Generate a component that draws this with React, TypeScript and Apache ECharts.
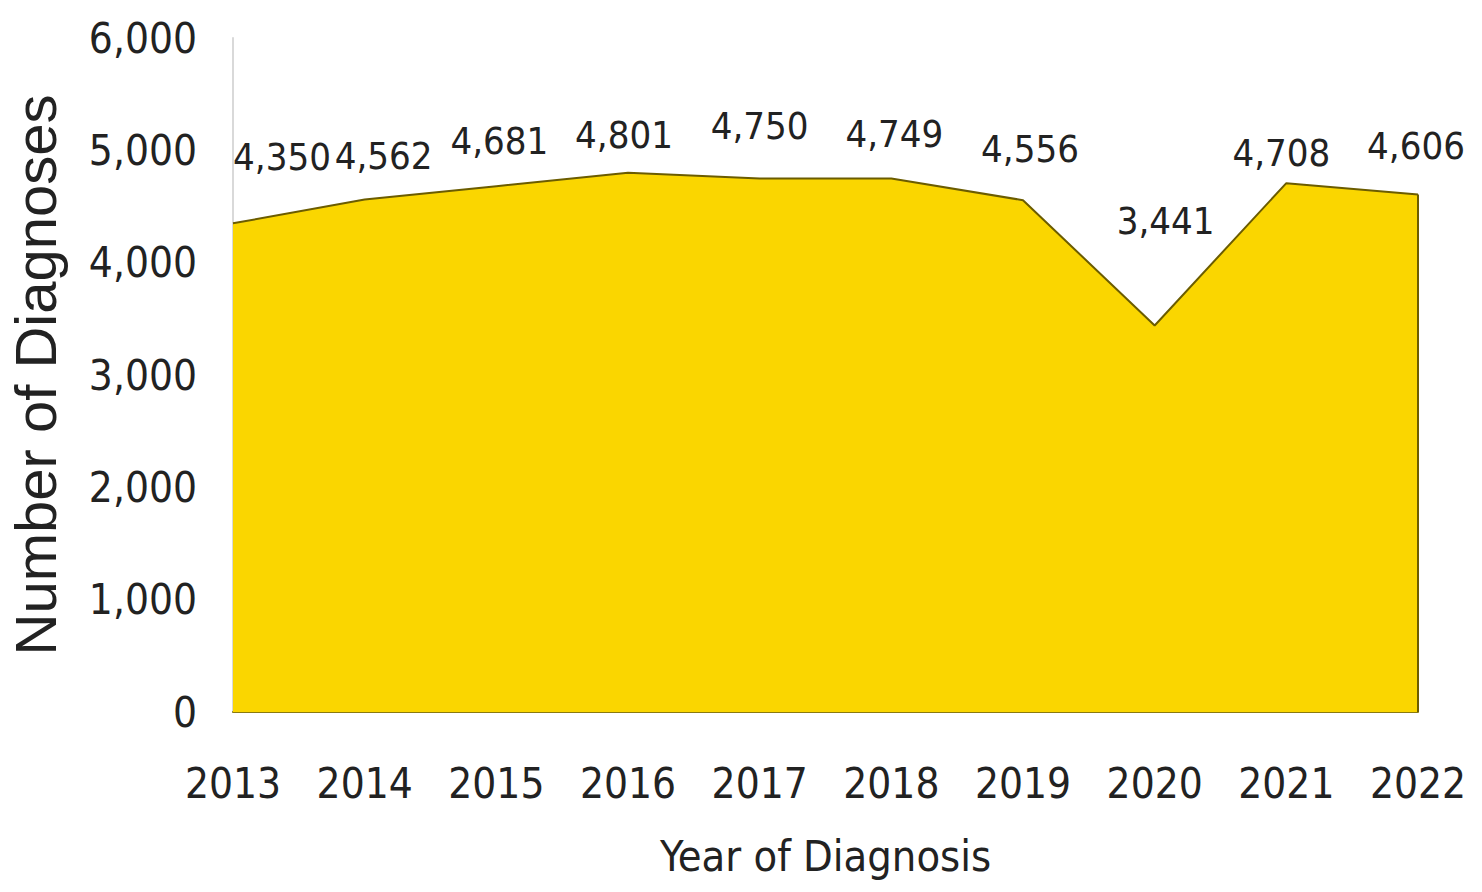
import React, { useEffect, useRef } from "react";
import * as echarts from "echarts";

const years = ["2013", "2014", "2015", "2016", "2017", "2018", "2019", "2020", "2021", "2022"];
const diagnoses = [4350, 4562, 4681, 4801, 4750, 4749, 4556, 3441, 4708, 4606];
const yTicks = { min: 0, max: 6000, interval: 1000 };

const NARROW = '"Liberation Sans Narrow", "Arial Narrow", "DejaVu Sans Condensed", sans-serif';
const SANS = '"Liberation Sans", Arial, sans-serif';

// label nudges (presentation only), keyed by category index
const labelNudge: Array<[number, number]> = [
  [49, -26],
  [19, -4],
  [3, -5],
  [-4, 2],
  [0, -12],
  [3, -5],
  [7, -11],
  [11, -64],
  [-5, 10],
  [-2, -9],
];

export default function App() {
  const ref = useRef<HTMLDivElement>(null);
  useEffect(() => {
    if (!ref.current) return;
    const chart = echarts.init(ref.current, undefined, { renderer: "svg" });
    const fmt = (v: number) => v.toLocaleString("en-US");
    chart.setOption({
      animation: false,
      backgroundColor: "#ffffff",
      grid: { left: 233, right: 64, top: 38, bottom: 180, outerBoundsMode: "none", containLabel: false },
      xAxis: {
        type: "category",
        data: years,
        boundaryGap: false,
        name: "Year of Diagnosis",
        nameLocation: "middle",
        nameGap: 122,
        nameTextStyle: { fontFamily: NARROW, fontSize: 43, color: "#222" },
        axisLine: { show: true, lineStyle: { color: "#8a7a10", width: 2 } },
        axisTick: { show: false },
        axisLabel: { fontFamily: NARROW, fontSize: 42, color: "#222", margin: 50, interval: 0 },
        splitLine: { show: false },
      },
      yAxis: {
        type: "value",
        min: yTicks.min,
        max: yTicks.max,
        interval: yTicks.interval,
        name: "Number of Diagnoses",
        nameLocation: "middle",
        nameRotate: 90,
        nameGap: 169,
        nameTextStyle: { fontFamily: SANS, fontSize: 58, color: "#222" },
        axisLine: { show: true, lineStyle: { color: "#d9d9d9", width: 2 } },
        axisTick: { show: false },
        splitLine: { show: false },
        axisLabel: {
          fontFamily: NARROW,
          fontSize: 42,
          color: "#222",
          margin: 36,
          formatter: (v: number) => fmt(v),
        },
      },
      series: [
        {
          type: "line",
          data: diagnoses,
          symbol: "circle",
          symbolSize: 2,
          showSymbol: true,
          itemStyle: { color: "rgba(0,0,0,0)", borderWidth: 0 },
          lineStyle: { color: "#6b5c00", width: 2 },
          areaStyle: { color: "#fad600", opacity: 1 },
          label: {
            show: true,
            position: "top",
            distance: 20,
            fontFamily: NARROW,
            fontSize: 38,
            color: "#222",
            formatter: (p: any) => fmt(p.value),
          },
          labelLayout: (p: any) => {
            const n = labelNudge[p.dataIndex] || [0, 0];
            return { dx: n[0], dy: n[1], hideOverlap: false };
          },
          markLine: {
            silent: true,
            symbol: "none",
            label: { show: false },
            lineStyle: { color: "#6b5c00", width: 2, type: "solid" },
            data: [
              [
                { coord: [years[years.length - 1], 0] },
                { coord: [years[years.length - 1], diagnoses[diagnoses.length - 1]] },
              ],
            ],
          },
        },
      ],
    });
    return () => chart.dispose();
  }, []);
  return (
    <div
      ref={ref}
      style={{ position: "fixed", left: 0, top: 0, width: 1482, height: 892 }}
    />
  );
}
